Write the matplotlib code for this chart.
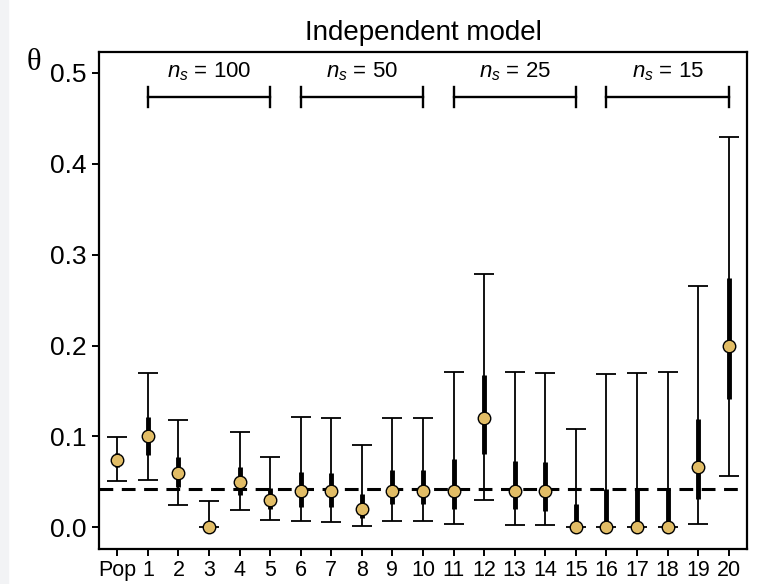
import numpy as np
import matplotlib.pyplot as plt
from matplotlib.patches import Rectangle

plt.rcParams['font.family'] = ['Liberation Sans', 'DejaVu Sans']
plt.rcParams['mathtext.fontset'] = 'custom'
plt.rcParams['mathtext.rm'] = 'Liberation Sans'
plt.rcParams['mathtext.it'] = 'Liberation Sans:italic'

# labels on the x axis (population estimate + 20 samples)
labels = ['Pop'] + [str(i) for i in range(1, 21)]

# point estimates of theta
est = [0.074, 0.100, 0.060, 0.000, 0.050, 0.030, 0.040, 0.040, 0.020, 0.040, 0.040,
       0.040, 0.120, 0.040, 0.040, 0.000, 0.000, 0.000, 0.000, 0.066, 0.200]
# outer interval (thin line with caps)
lo95 = [0.051, 0.052, 0.024, 0.000, 0.019, 0.008, 0.007, 0.006, 0.001, 0.007, 0.007,
        0.003, 0.030, 0.002, 0.002, 0.000, 0.000, 0.000, 0.000, 0.004, 0.056]
hi95 = [0.099, 0.170, 0.118, 0.029, 0.105, 0.077, 0.121, 0.120, 0.090, 0.120, 0.120,
        0.171, 0.279, 0.171, 0.170, 0.108, 0.169, 0.170, 0.171, 0.265, 0.430]
# inner interval (thick line)
lo50 = [0.066, 0.080, 0.044, 0.000, 0.036, 0.020, 0.022, 0.022, 0.010, 0.025, 0.025,
        0.020, 0.081, 0.020, 0.018, 0.000, 0.000, 0.000, 0.000, 0.031, 0.141]
hi50 = [0.082, 0.121, 0.077, 0.004, 0.066, 0.043, 0.061, 0.060, 0.037, 0.063, 0.063,
        0.075, 0.167, 0.073, 0.072, 0.025, 0.042, 0.042, 0.042, 0.119, 0.274]

true_theta = 0.042

# sample size groups: (first sample, last sample, n_s)
groups = [(1, 5, 100), (6, 10, 50), (11, 15, 25), (16, 20, 15)]

x = np.arange(len(labels))
est = np.array(est)
lo95 = np.array(lo95)
hi95 = np.array(hi95)

fig = plt.figure(figsize=(7.58, 5.84), dpi=100)
fig.patches.append(Rectangle((0, 0), 8 / 758, 1, transform=fig.transFigure,
                             color='#f2f3f5', zorder=-1))
ax = fig.add_axes([0.1306, 0.0599, 0.8549, 0.8510])

ax.axhline(true_theta, color='black', lw=2.2, ls=(0, (4.5, 2.8)), zorder=1)

ax.errorbar(x, est, yerr=[est - lo95, hi95 - est], fmt='none', ecolor='black',
            elinewidth=1.3, capsize=7.5, capthick=1.3, zorder=2)
ax.vlines(x, lo50, hi50, color='black', lw=3.5, zorder=3)
ax.plot(x, est, 'o', ms=9, mfc='#e2bd66', mec='black', mew=1.0, zorder=4)

for a, b, n in groups:
    ax.plot([a, b], [0.473, 0.473], color='black', lw=1.7, zorder=2)
    ax.plot([a, a], [0.462, 0.484], color='black', lw=1.7, zorder=2)
    ax.plot([b, b], [0.462, 0.484], color='black', lw=1.7, zorder=2)
    ax.text((a + b) / 2, 0.501, r'$n_s$' + ' = ' + str(n), ha='center', va='center',
            fontsize=16)

ax.set_xlim(-0.6, 20.6)
ax.set_ylim(-0.024, 0.523)
ax.set_xticks(x)
ax.set_xticklabels(labels, fontsize=15.5)
ax.set_yticks([0.0, 0.1, 0.2, 0.3, 0.4, 0.5])
ax.set_yticklabels(['0.0', '0.1', '0.2', '0.3', '0.4', '0.5'], fontsize=19)
ax.tick_params(direction='out', length=5, width=1.4, pad=4)
ax.tick_params(axis='x', pad=3)
for s in ax.spines.values():
    s.set_linewidth(1.6)

ax.set_title('Independent model', fontsize=20, pad=9)
fig.text(34 / 758, 1 - 63 / 584, 'θ', family='Liberation Serif', fontsize=22,
         ha='center', va='center')

plt.savefig('out.png', dpi=100)
